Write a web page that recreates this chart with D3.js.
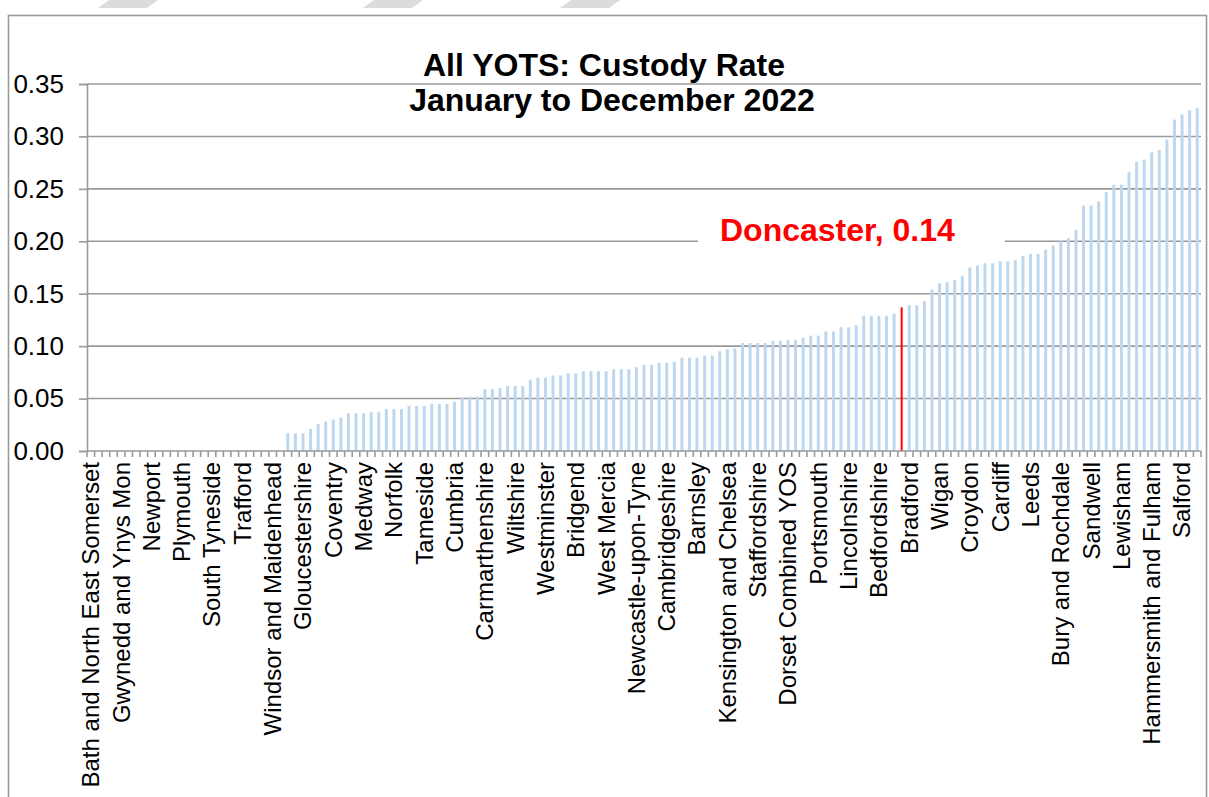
<!DOCTYPE html>
<html>
<head>
<meta charset="utf-8">
<script src="https://cdn.jsdelivr.net/npm/d3@7"></script>
<style>
  body { margin: 0; background: #fff; }
  svg { display: block; font-family: "Liberation Sans", Arial, sans-serif; }
  .grid line { stroke: #9a9a9a; stroke-width: 1.6; }
  .axis path, .axis line { stroke: #9a9a9a; stroke-width: 1.6; }
  .axis text { fill: #000; }
</style>
</head>
<body>
<div id="chart"></div>
<script>
// every 4th YOT is named on the axis
var labelNames = [
  "Bath and North East Somerset", "Gwynedd and Ynys Mon", "Newport", "Plymouth",
  "South Tyneside", "Trafford", "Windsor and Maidenhead", "Gloucestershire",
  "Coventry", "Medway", "Norfolk", "Tameside", "Cumbria", "Carmarthenshire",
  "Wiltshire", "Westminster", "Bridgend", "West Mercia", "Newcastle-upon-Tyne",
  "Cambridgeshire", "Barnsley", "Kensington and Chelsea", "Staffordshire",
  "Dorset Combined YOS", "Portsmouth", "Lincolnshire", "Bedfordshire", "Bradford",
  "Wigan", "Croydon", "Cardiff", "Leeds", "Bury and Rochdale", "Sandwell",
  "Lewisham", "Hammersmith and Fulham", "Salford"
];
var labelStep = 4;

// custody rate, sorted ascending (147 YOTs)
var values = [
  0, 0, 0, 0, 0, 0, 0, 0, 0, 0, 0, 0, 0, 0, 0, 0, 0, 0, 0, 0, 0, 0, 0, 0, 0, 0,
  0.017, 0.017, 0.017, 0.021, 0.026, 0.028, 0.030, 0.032, 0.036, 0.036, 0.036, 0.037, 0.037,
  0.040, 0.040, 0.040, 0.043, 0.043, 0.043, 0.045, 0.045, 0.045, 0.047, 0.051, 0.052, 0.052,
  0.059, 0.059, 0.060, 0.062, 0.062, 0.062, 0.068, 0.070, 0.070, 0.072, 0.072, 0.074, 0.074,
  0.076, 0.076, 0.076, 0.076, 0.078, 0.078, 0.078, 0.080, 0.082, 0.082, 0.084, 0.084, 0.085,
  0.089, 0.089, 0.089, 0.091, 0.091, 0.095, 0.097, 0.098, 0.103, 0.103, 0.103, 0.103, 0.105,
  0.105, 0.106, 0.106, 0.108, 0.110, 0.110, 0.114, 0.114, 0.118, 0.118, 0.120, 0.129, 0.129,
  0.129, 0.129, 0.131, 0.137, 0.139, 0.139, 0.143, 0.154, 0.160, 0.161, 0.163, 0.167, 0.175,
  0.177, 0.179, 0.179, 0.181, 0.181, 0.182, 0.186, 0.188, 0.188, 0.192, 0.196, 0.200, 0.203,
  0.211, 0.234, 0.234, 0.238, 0.247, 0.254, 0.254, 0.266, 0.276, 0.278, 0.285, 0.287, 0.297,
  0.316, 0.321, 0.325, 0.327
];

var highlight = {index: 107, name: "Doncaster", label: "Doncaster, 0.14"};
var yTicks = [0, 0.05, 0.10, 0.15, 0.20, 0.25, 0.30, 0.35];
var titleLines = ["All YOTS: Custody Rate", "January to December 2022"];

var W = 1209, H = 797;
var plot = {left: 87, right: 1201, top: 84, bottom: 451};

var svg = d3.select("#chart").append("svg")
  .attr("width", W)
  .attr("height", H);

// page artefacts along the top edge
[98, 363, 560].forEach(function(x0) {
  svg.append("path")
    .attr("d", `M${x0},8L${x0 + 11},0H${x0 + 60}L${x0 + 49},8Z`)
    .attr("fill", "#dcdcdc");
});

// chart frame
svg.append("rect")
  .attr("x", 8.5).attr("y", 15.5)
  .attr("width", 1198).attr("height", 820)
  .attr("fill", "none")
  .attr("stroke", "#9a9a9a")
  .attr("stroke-width", 1.6);

var x = d3.scaleBand()
  .domain(d3.range(values.length))
  .range([plot.left, plot.right])
  .paddingInner(0);

var y = d3.scaleLinear()
  .domain([0, 0.35])
  .range([plot.bottom, plot.top]);

// gridlines
svg.append("g")
  .attr("class", "grid")
  .selectAll("line")
  .data(yTicks.slice(1))
  .enter().append("line")
    .attr("x1", plot.left)
    .attr("x2", plot.right)
    .attr("y1", d => y(d))
    .attr("y2", d => y(d));

// bars
var barW = 3;
svg.append("g")
  .selectAll("rect")
  .data(values)
  .enter().append("rect")
    .attr("x", (d, i) => x(i) + x.bandwidth() / 2 - (i === highlight.index ? 1 : barW / 2))
    .attr("width", (d, i) => i === highlight.index ? 2 : barW)
    .attr("y", d => y(d))
    .attr("height", d => y(0) - y(d))
    .attr("fill", (d, i) => i === highlight.index ? "#ff0000" : "#bdd7ee");

// y axis
var yAxis = svg.append("g")
  .attr("class", "axis")
  .attr("transform", `translate(${plot.left},0)`)
  .call(d3.axisLeft(y).tickValues(yTicks).tickFormat(d3.format(".2f")).tickSize(8).tickPadding(15));
yAxis.selectAll("text").style("font-size", "26px");

// x axis line with ticks at category boundaries
var xg = svg.append("g").attr("class", "axis");
xg.append("line")
  .attr("x1", plot.left).attr("x2", plot.right)
  .attr("y1", y(0)).attr("y2", y(0));
xg.selectAll(".tick-b")
  .data(d3.range(values.length + 1))
  .enter().append("line")
    .attr("class", "tick-b")
    .attr("x1", i => i < values.length ? x(i) : plot.right)
    .attr("x2", i => i < values.length ? x(i) : plot.right)
    .attr("y1", y(0))
    .attr("y2", y(0) + 6);

// category labels
xg.selectAll(".cat")
  .data(labelNames)
  .enter().append("text")
    .attr("class", "cat")
    .attr("transform", (d, k) => `translate(${x(k * labelStep) + x.bandwidth() / 2},${y(0) + 11}) rotate(-90)`)
    .attr("dy", "0.35em")
    .attr("text-anchor", "end")
    .style("font-size", "24px")
    .text(d => d);

// title (first line sits a little left, as in the original)
svg.append("g")
  .selectAll("text")
  .data(titleLines)
  .enter().append("text")
    .attr("x", (d, i) => i === 0 ? 604 : 612)
    .attr("y", (d, i) => 76 + i * 35)
    .attr("text-anchor", "middle")
    .style("font-size", "32px")
    .style("font-weight", "bold")
    .text(d => d);

// highlight annotation
svg.append("rect")
  .attr("x", 698).attr("y", 212)
  .attr("width", 307).attr("height", 40)
  .attr("fill", "#fff");
svg.append("text")
  .attr("x", 720)
  .attr("y", 241)
  .style("font-size", "32px")
  .style("font-weight", "bold")
  .attr("fill", "#ff0000")
  .text(highlight.label);
</script>
</body>
</html>
